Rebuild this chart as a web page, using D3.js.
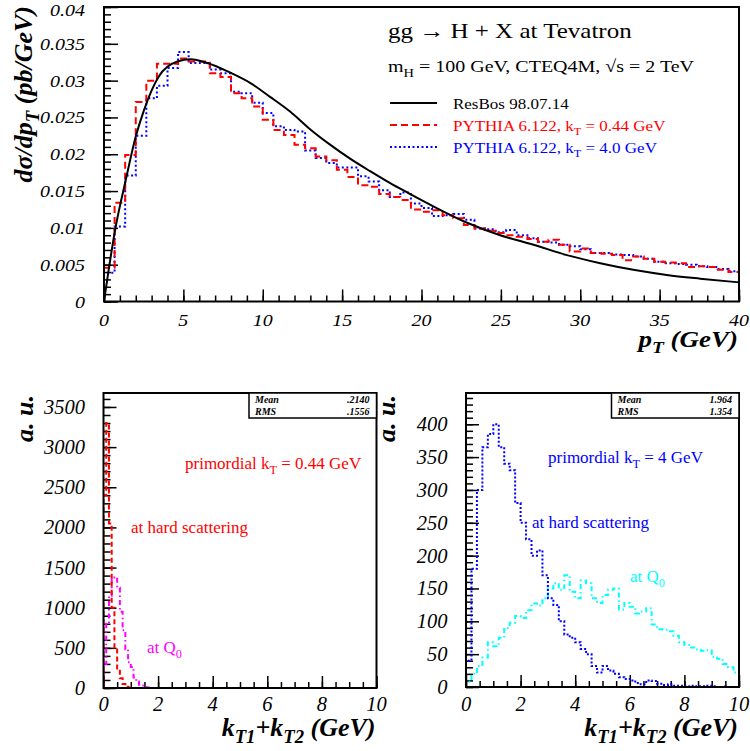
<!DOCTYPE html>
<html><head><meta charset="utf-8">
<script src="https://cdn.jsdelivr.net/npm/d3@7"></script>
<style>body{margin:0;background:#fff}svg{display:block}</style>
</head><body>
<svg id="c" width="750" height="751"></svg>
<script>
// ---------------- DATA ----------------
// Top panel: pT histograms, 60 bins from 0 to 40 GeV
const ptRange = [0, 40];
const ptBinCount = 60;
const pythiaKt044 = [0.0046,0.0134,0.0199,0.0271,0.0300,0.0323,0.0323,0.0330,0.0326,0.0326,
 0.0310,0.0305,0.0283,0.0276,0.0265,0.0247,0.0233,0.0226,0.0213,0.0208,
 0.0197,0.0192,0.0179,0.0169,0.0158,0.0156,0.0146,0.0142,0.0138,0.0125,
 0.0122,0.0124,0.0117,0.0113,0.0104,0.0099,0.0096,0.0093,0.0090,0.0088,
 0.0085,0.0081,0.0084,0.0077,0.0068,0.0072,0.0066,0.0065,0.0063,0.0056,
 0.0061,0.0058,0.0054,0.0053,0.0052,0.0047,0.0048,0.0047,0.0043,0.0040];
const pythiaKt40 = [0.0039,0.0102,0.0171,0.0225,0.0276,0.0293,0.0317,0.0339,0.0324,0.0324,
 0.0315,0.0310,0.0285,0.0283,0.0270,0.0256,0.0238,0.0233,0.0231,0.0205,
 0.0195,0.0188,0.0182,0.0182,0.0170,0.0163,0.0151,0.0142,0.0148,0.0133,
 0.0127,0.0116,0.0117,0.0119,0.0111,0.0099,0.0098,0.0094,0.0097,0.0090,
 0.0086,0.0081,0.0080,0.0077,0.0075,0.0071,0.0066,0.0066,0.0064,0.0063,
 0.0061,0.0058,0.0054,0.0052,0.0051,0.0050,0.0048,0.0047,0.0044,0.0041];
const resbosPt  = [0, 0.74, 1.37, 2.0, 2.52, 3.46, 4.62, 5.46, 6.5, 7.94, 9.2, 10.46, 11.72, 12.98, 14.24, 15.5, 16.76, 18.0, 19.28, 20.77, 22.87, 24.96, 27.06, 29.16, 31.26, 33.35, 35.45, 37.55, 40];
const resbosVal = [0, 0.0102, 0.0165, 0.0224, 0.0260, 0.0306, 0.0326, 0.0329, 0.0324, 0.0311, 0.0297, 0.0278, 0.0258, 0.0234, 0.0213, 0.0194, 0.0177, 0.0161, 0.0146, 0.0129, 0.0107, 0.0090, 0.0077, 0.0063, 0.0052, 0.0043, 0.0036, 0.0031, 0.0026];
const topYTicks = [0,0.005,0.01,0.015,0.02,0.025,0.03,0.035,0.04];
const topYTickLabels = ["0","0.005","0.01","0.015","0.02","0.025","0.03","0.035","0.04"];
const topXTicks = [0,5,10,15,20,25,30,35,40];

// Bottom-left: primordial kT = 0.44 GeV, bins of 0.1 GeV from 0
const ktRange = [0, 10];
const leftBinWidth = 0.1;
const leftHard = [2400,3300,2050,1000,500,230,120,50,15,5,0,0];
const leftQ0   = [300,800,1150,1350,1380,1250,950,720,480,320,260,130,80,40,30,10,5,0];
const leftYTicks = [0,500,1000,1500,2000,2500,3000,3500];
const leftStats = {mean: ".2140", rms: ".1556"};

// Bottom-right: primordial kT = 4 GeV, bins of 0.2 GeV from 0 to 10
const rightBinWidth = 0.2;
const rightHard = [40,180,300,365,385,400,365,340,330,280,250,225,200,208,170,135,125,100,80,75,
 68,58,50,32,22,32,25,20,15,12,10,6,4,10,9,5,3,4,2,2,1,2,1,1,2,1,0,1,0,0];
const rightQ0 = [8,20,32,45,68,62,75,90,98,108,105,117,127,124,135,150,158,148,170,145,
 135,162,158,135,128,140,148,150,118,128,122,112,115,120,95,88,87,85,78,68,
 64,60,57,55,56,46,43,35,30,22];
const rightYTicks = [0,50,100,150,200,250,300,350,400];
const rightStats = {mean: "1.964", rms: "1.354"};
const bottomXTicks = [0,2,4,6,8,10];

// ---------------- DRAWING ----------------
const svg = d3.select("#c");
const SERIF = "'Liberation Serif','Times New Roman',serif";

function text(g, x, y, segs, o) {
  o = o || {};
  const t = g.append("text")
    .attr("transform", `translate(${x},${y})` + (o.rotate ? ` rotate(${o.rotate})` : "") + ` scale(${o.sx||1},${o.sy||1})`)
    .attr("font-family", SERIF)
    .attr("font-size", o.size || 16)
    .attr("font-style", o.italic ? "italic" : "normal")
    .attr("font-weight", o.bold ? "bold" : "normal")
    .attr("text-anchor", o.anchor || "start")
    .attr("fill", o.fill || "#000");
  if (typeof segs === "string") segs = [{t: segs}];
  let shifted = 0;
  const size = o.size || 16;
  segs.forEach(s => {
    const ts = t.append("tspan").text(s.t);
    if (s.sub) {
      ts.attr("font-size", size * 0.72).attr("dy", size * 0.28 - shifted);
      shifted = size * 0.28;
    } else if (shifted) {
      ts.attr("dy", -shifted);
      shifted = 0;
    }
  });
  return t;
}

function histPoints(x0, w, vals, extendTo) {
  const pts = [[x0, 0]];
  vals.forEach((v, i) => { pts.push([x0 + i*w, v]); pts.push([x0 + (i+1)*w, v]); });
  if (extendTo !== undefined) { pts.push([x0 + vals.length*w, 0]); pts.push([extendTo, 0]); }
  return pts;
}

function ticks(g, axisFn, scale, values, size, transform) {
  g.append("g").attr("transform", transform)
    .call(axisFn(scale).tickValues(values).tickSize(-size).tickFormat(""))
    .call(s => s.select(".domain").remove())
    .call(s => s.selectAll("line").attr("stroke", "#000").attr("stroke-width", 1.5));
}

function frame(g, x, y, id) {
  const [x0, x1] = x.range(), [y1, y0] = y.range();
  g.append("clipPath").attr("id", id).append("rect")
    .attr("x", x0).attr("y", y0).attr("width", x1 - x0).attr("height", y1 - y0);
  return () => g.append("rect").attr("x", x0).attr("y", y0).attr("width", x1 - x0).attr("height", y1 - y0)
    .attr("fill", "none").attr("stroke", "#000").attr("stroke-width", 2);
}

// ---- TOP PANEL ----
const xT = d3.scaleLinear(ptRange, [104, 739]);
const yT = d3.scaleLinear([0, 0.04], [301.5, 7]);
const gT = svg.append("g");
const drawFrameT = frame(gT, xT, yT, "clipT");
ticks(gT, d3.axisBottom, xT, d3.range(0, 41, 1), 6, `translate(0,${yT(0)})`);
ticks(gT, d3.axisBottom, xT, topXTicks, 12, `translate(0,${yT(0)})`);
ticks(gT, d3.axisLeft, yT, d3.range(0, 41).map(i => i * 0.001), 7, `translate(${xT(0)},0)`);
ticks(gT, d3.axisLeft, yT, topYTicks, 14, `translate(${xT(0)},0)`);

const lineT = d3.line().x(d => xT(d[0])).y(d => yT(d[1]));
const ptW = (ptRange[1] - ptRange[0]) / ptBinCount;
const cT = gT.append("g").attr("clip-path", "url(#clipT)");
cT.append("path").attr("d", lineT(histPoints(0, ptW, pythiaKt40)))
  .attr("fill", "none").attr("stroke", "#0000ff").attr("stroke-width", 2).attr("stroke-dasharray", "2,2.5");
cT.append("path").attr("d", lineT(histPoints(0, ptW, pythiaKt044)))
  .attr("fill", "none").attr("stroke", "#ff0000").attr("stroke-width", 2).attr("stroke-dasharray", "7,4");
cT.append("path").attr("d", d3.line().x((d, i) => xT(resbosPt[i])).y(d => yT(d)).curve(d3.curveMonotoneX)(resbosVal))
  .attr("fill", "none").attr("stroke", "#000").attr("stroke-width", 2);
drawFrameT();

topYTicks.forEach((v, i) => text(gT, 85, Math.max(yT(v) + 6, 16), topYTickLabels[i], {size: 20, italic: true, anchor: "end", sy: 0.85}));
topXTicks.forEach(v => text(gT, xT(v), 326, String(v), {size: 20, italic: true, anchor: "middle", sy: 0.85}));

text(gT, 32, 6, [{t: "dσ/dp"}, {t: "T", sub: true}, {t: " (pb/GeV)"}], {size: 26, bold: true, italic: true, anchor: "end", rotate: -90});
text(gT, 738, 347, [{t: "p"}, {t: "T", sub: true}, {t: " (GeV)"}], {size: 27, bold: true, italic: true, anchor: "end", sy: 0.85});

text(gT, 388, 38, "gg → H + X at Tevatron", {size: 25, sy: 0.85});
text(gT, 388, 72, [{t: "m"}, {t: "H", sub: true}, {t: " = 100 GeV, CTEQ4M, √s = 2 TeV"}], {size: 20, sy: 0.85});

const legend = [
  {label: [{t: "ResBos 98.07.14"}], color: "#000", dash: null, y: 103},
  {label: [{t: "PYTHIA 6.122, k"}, {t: "T", sub: true}, {t: " = 0.44 GeV"}], color: "#ff0000", dash: "7,4", y: 125},
  {label: [{t: "PYTHIA 6.122, k"}, {t: "T", sub: true}, {t: " = 4.0 GeV"}], color: "#0000ff", dash: "2,2.5", y: 147}
];
legend.forEach(l => {
  gT.append("line").attr("x1", 390).attr("x2", 437).attr("y1", l.y).attr("y2", l.y)
    .attr("stroke", l.color).attr("stroke-width", 2).attr("stroke-dasharray", l.dash);
  text(gT, 453, l.y + 6, l.label, {size: 17, fill: l.color, sy: 0.85});
});

// ---- BOTTOM PANELS ----
function bottomPanel(opt) {
  const x = d3.scaleLinear(ktRange, opt.xr);
  const y = d3.scaleLinear([0, opt.ymax], [opt.y0, 393]);
  const g = svg.append("g");
  const drawFrame = frame(g, x, y, opt.id);
  ticks(g, d3.axisBottom, x, d3.range(0, 10.01, 0.5), 6, `translate(0,${y(0)})`);
  ticks(g, d3.axisBottom, x, bottomXTicks, 12, `translate(0,${y(0)})`);
  ticks(g, d3.axisLeft, y, d3.range(0, opt.ymax, opt.minor), 7, `translate(${x(0)},0)`);
  ticks(g, d3.axisLeft, y, opt.yticks, 13, `translate(${x(0)},0)`);
  const line = d3.line().x(d => x(d[0])).y(d => y(d[1]));
  const c = g.append("g").attr("clip-path", `url(#${opt.id})`);
  opt.series.forEach(s => {
    c.append("path").attr("d", line(histPoints(0, opt.bw, s.vals, 10)))
      .attr("fill", "none").attr("stroke", s.color).attr("stroke-width", 2).attr("stroke-dasharray", s.dash);
  });
  drawFrame();
  opt.yticks.forEach(v => text(g, x(0) - 18.5, y(v) + 7, String(v), {size: 20.5, italic: true, anchor: "end"}));
  bottomXTicks.forEach(v => text(g, x(v), 711, String(v), {size: 20.5, italic: true, anchor: "middle"}));
  text(g, opt.xr[1] - 1, 736, [{t: "k"}, {t: "T1", sub: true}, {t: "+k"}, {t: "T2", sub: true}, {t: " (GeV)"}], {size: 26, bold: true, italic: true, anchor: "end"});
  text(g, opt.auX, 395, "a. u.", {size: 26, bold: true, italic: true, anchor: "end", rotate: -90});
  // stats box
  const bx0 = opt.xr[1] - 127.5;
  g.append("rect").attr("x", bx0).attr("y", 393).attr("width", 127.5).attr("height", 25)
    .attr("fill", "#fff").attr("stroke", "#000").attr("stroke-width", 1.5);
  text(g, bx0 + 6, 403, "Mean", {size: 10, bold: true, italic: true});
  text(g, opt.xr[1] - 7, 403, opt.stats.mean, {size: 10, bold: true, italic: true, anchor: "end"});
  text(g, bx0 + 6, 414.5, "RMS", {size: 10, bold: true, italic: true});
  text(g, opt.xr[1] - 7, 414.5, opt.stats.rms, {size: 10, bold: true, italic: true, anchor: "end"});
  opt.notes.forEach(n => text(g, n.x, n.y, n.segs, {size: 17, fill: n.color}));
}

bottomPanel({
  id: "clipL", xr: [103.5, 376.5], y0: 688, ymax: 3674, minor: 100, yticks: leftYTicks, auX: 33,
  stats: leftStats,
  series: [
    {vals: leftQ0, color: "#ff00ff", dash: "5,3,1.5,3"},
    {vals: leftHard, color: "#ff0000", dash: "5,3"}
  ],
  bw: leftBinWidth,
  notes: [
    {x: 185, y: 469, segs: [{t: "primordial k"}, {t: "T", sub: true}, {t: " = 0.44 GeV"}], color: "#ff0000"},
    {x: 131, y: 533, segs: "at hard scattering", color: "#ff0000"},
    {x: 147, y: 653, segs: [{t: "at Q"}, {t: "0", sub: true}], color: "#ff00ff"}
  ]
});

bottomPanel({
  id: "clipR", xr: [466, 739], y0: 687, ymax: 447.6, minor: 10, yticks: rightYTicks, auX: 395,
  stats: rightStats,
  series: [
    {vals: rightQ0, color: "#00ffff", dash: "5,3,1.5,3"},
    {vals: rightHard, color: "#0000ff", dash: "2,2"}
  ],
  bw: rightBinWidth,
  notes: [
    {x: 548, y: 463, segs: [{t: "primordial k"}, {t: "T", sub: true}, {t: " = 4 GeV"}], color: "#0000ff"},
    {x: 532, y: 528, segs: "at hard scattering", color: "#0000ff"},
    {x: 630, y: 582, segs: [{t: "at Q"}, {t: "0", sub: true}], color: "#00ffff"}
  ]
});
</script>
</body></html>
